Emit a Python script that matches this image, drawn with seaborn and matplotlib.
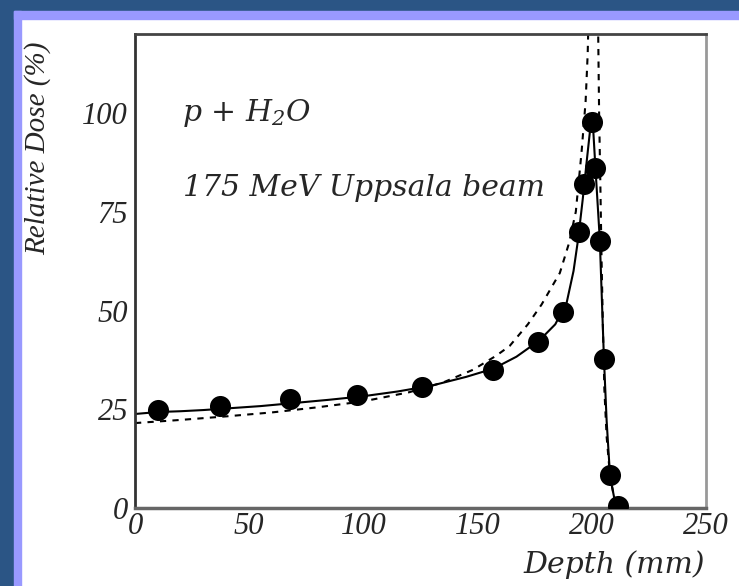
import numpy as np
import pandas as pd
import matplotlib
matplotlib.use("Agg")
import matplotlib.pyplot as plt
from matplotlib.patches import Rectangle
import seaborn as sns

# --- measured points (Uppsala beam) ---
meas_depth = [10.2, 37.2, 67.9, 97.1, 125.5, 156.9, 176.6, 187.5, 194.6, 196.4,
              199.9, 201.5, 203.6, 205.3, 208.0, 211.6]
meas_dose = [24.7, 25.8, 27.7, 28.5, 30.6, 35.0, 42.0, 49.6, 69.8, 82.0,
             97.8, 86.0, 67.5, 37.6, 8.3, 0.5]

# --- solid curve ---
solid_depth = [0, 10, 20, 30, 40, 55, 70, 85, 100, 115, 130, 145, 157, 167, 177,
               184, 189, 192, 194, 196, 198, 199.5, 200.3, 201.5, 203.5, 205.3,
               206.5, 208, 210, 211.6]
solid_dose = [23.8, 24.3, 24.5, 24.8, 25.2, 25.8, 26.6, 27.4, 28.3, 29.5, 31.0,
              33.2, 35.3, 38.3, 42.4, 46.5, 52, 60, 68, 78, 89, 97, 99, 87, 68,
              38, 22, 8, 2, 0]

# --- dashed curve ---
dash_depth = [0, 20, 40, 60, 80, 100, 120, 135, 148, 158, 164, 172, 178, 186,
              190, 193, 195.5, 197.3, 198.2, 198.6, 199.0, 202.4, 202.8, 203.2,
              203.8, 204.3, 204.9, 205.5, 206.5, 208, 210, 212]
dash_dose = [21.5, 22.3, 23.2, 24.2, 25.5, 27.0, 29.3, 31.8, 35.0, 38.5, 41.0,
             46.5, 51.5, 59.5, 67, 75, 90, 103, 115, 125, 140, 140, 120, 100,
             80, 62, 45, 30, 18, 8, 2, 0]

solid = pd.DataFrame({"depth": solid_depth, "dose": solid_dose})
dashed = pd.DataFrame({"depth": dash_depth, "dose": dash_dose})
meas = pd.DataFrame({"depth": meas_depth, "dose": meas_dose})

sns.set_style("white")
plt.rcParams["font.family"] = ["Liberation Serif", "DejaVu Serif"]
plt.rcParams["font.style"] = "italic"
plt.rcParams["mathtext.fontset"] = "custom"
plt.rcParams["mathtext.rm"] = "DejaVu Serif:italic"
plt.rcParams["mathtext.it"] = "DejaVu Serif:italic"

wide = ["DejaVu Serif"]

fig = plt.figure(figsize=(7.39, 5.86), dpi=100)
fig.patch.set_facecolor("white")

# slide frame: dark blue band and lavender stripe on top and left
W, H = 739.0, 586.0
fig.patches.append(Rectangle((0, 1 - 11 / H), 1, 11 / H, transform=fig.transFigure,
                             color="#2b5585", zorder=0))
fig.patches.append(Rectangle((0, 0), 14 / W, 1, transform=fig.transFigure,
                             color="#2b5585", zorder=0))
fig.patches.append(Rectangle((14 / W, 1 - 19 / H), 1, 8 / H, transform=fig.transFigure,
                             color="#9999ff", zorder=0))
fig.patches.append(Rectangle((14 / W, 0), 7 / W, 1 - 11 / H, transform=fig.transFigure,
                             color="#9999ff", zorder=0))

ax = fig.add_axes([135 / W, 1 - 508 / H, 571 / W, 474 / H])

sns.lineplot(data=dashed, x="depth", y="dose", ax=ax, color="black", lw=1.5,
             linestyle=(0, (3, 3)), sort=False, estimator=None)
sns.lineplot(data=solid, x="depth", y="dose", ax=ax, color="black", lw=1.5,
             sort=False, estimator=None)
sns.scatterplot(data=meas, x="depth", y="dose", ax=ax, color="black", s=230,
                edgecolor="black", linewidth=0, zorder=5)

ax.set_xlim(0, 250)
ax.set_ylim(0, 120)
ax.set_xticks([0, 50, 100, 150, 200, 250])
ax.set_xticks([25, 75, 125, 175, 225], minor=True)
ax.set_yticks([0, 25, 50, 75, 100])
ax.tick_params(axis="both", which="major", direction="in", length=14,
               width=1.5, color="#555555", labelsize=22)
ax.tick_params(axis="x", which="minor", direction="in", length=7,
               width=1.5, color="#555555")
ax.tick_params(axis="y", pad=5)
ax.tick_params(axis="x", pad=3)
ax.set_xlabel("")
ax.set_ylabel("")

ax.spines["left"].set_color("#333333")
ax.spines["left"].set_linewidth(2)
ax.spines["top"].set_color("#444444")
ax.spines["top"].set_linewidth(2)
ax.spines["bottom"].set_color("#666666")
ax.spines["bottom"].set_linewidth(2.5)
ax.spines["right"].set_color("#999999")
ax.spines["right"].set_linewidth(2)

ax.text(20.5, 100, r"p + H$_2$O", fontsize=21.5, va="center", ha="left", family=wide)
ax.text(21, 81, "175 MeV Uppsala beam", fontsize=21.5, va="center", ha="left",
        family=wide)

fig.text(705 / W, 1 - 565 / H, "Depth (mm)", fontsize=21.5, ha="right", va="center",
         family=wide)
fig.text(38 / W, 1 - 148 / H, "Relative Dose (%)", fontsize=21, rotation=90,
         ha="center", va="center")

fig.savefig("out.png", dpi=100, facecolor=fig.get_facecolor())
